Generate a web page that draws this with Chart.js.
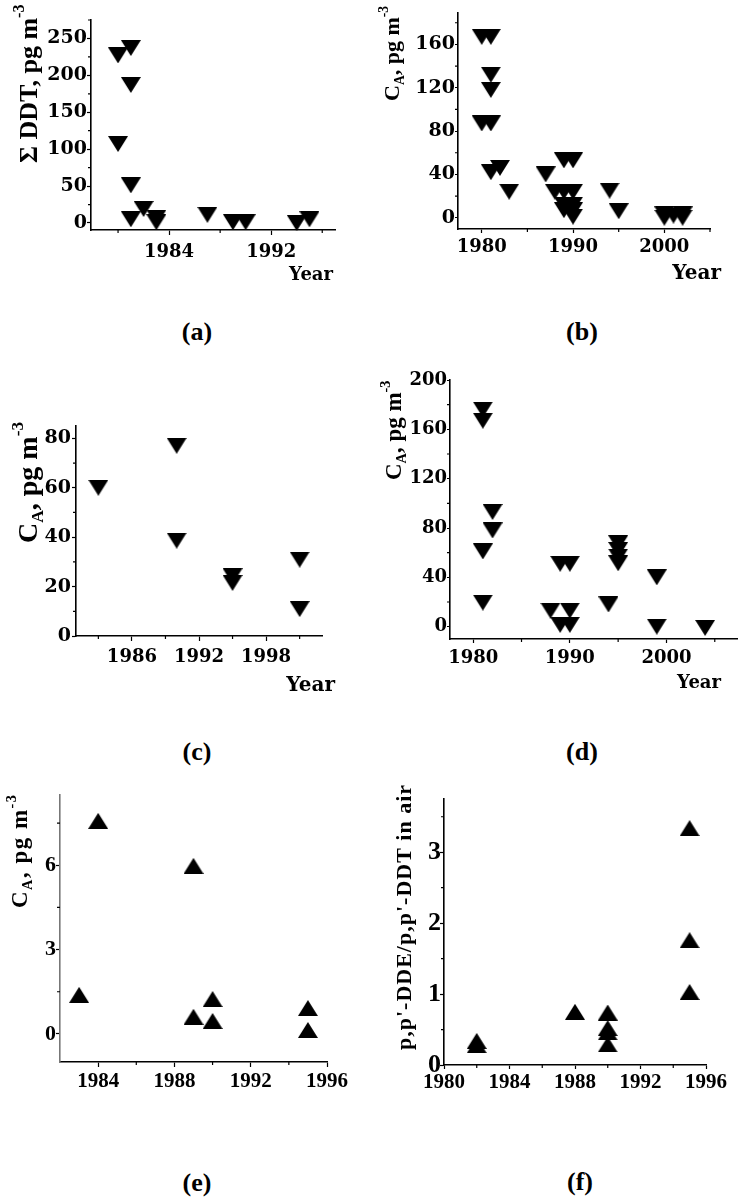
<!DOCTYPE html>
<html>
<head>
<meta charset="utf-8">
<script src="https://cdn.jsdelivr.net/npm/chart.js@4.4.1/dist/chart.umd.min.js"></script>
<style>
  body { margin: 0; background: #fff; width: 748px; height: 1199px; position: relative; overflow: hidden; }
  canvas { position: absolute; }
  .tag { position: absolute; font: bold 26px "Liberation Serif", serif; color: #000; transform: translate(-50%, -50%); }
</style>
</head>
<body>
<canvas id="pa"></canvas>
<canvas id="pb"></canvas>
<canvas id="pc"></canvas>
<canvas id="pd"></canvas>
<canvas id="pe"></canvas>
<canvas id="pf"></canvas>
<div class="tag" style="left:197px;top:332px">(a)</div>
<div class="tag" style="left:582px;top:332px">(b)</div>
<div class="tag" style="left:197px;top:752px">(c)</div>
<div class="tag" style="left:582px;top:752px">(d)</div>
<div class="tag" style="left:197px;top:1183px">(e)</div>
<div class="tag" style="left:580px;top:1182px">(f)</div>
<script>
// ─── DATA ─────────────────────────────────────────────────────────────────────

// (a) sum DDT, pg m-3
const yearsA = [1980, 1981, 1981, 1980, 1981, 1982, 1981, 1983, 1983, 1987, 1989, 1990, 1994, 1995];
const valsA  = [227, 237, 187, 107, 51, 19, 5, 7, 1, 11, 1, 1, 0, 5];
const xTicksA = [1984, 1992];
const xMinorA = [1980, 1988, 1996];
const yTicksA = [0, 50, 100, 150, 200, 250];
const yMinorA = [25, 75, 125, 175, 225, 275];

// (b) C_A, pg m-3
const yearsB = [1980, 1981, 1981, 1981, 1980, 1981, 1981, 1982, 1983, 1987, 1989, 1990,
                1988, 1989, 1990, 1989, 1990, 1989, 1990, 1990, 1994, 1995,
                2000, 2000, 2001, 2002, 2002];
const valsB  = [167, 167, 132, 118, 87, 87, 42, 46, 24, 40, 53, 53,
                24, 24, 24, 12, 12, 7, 7, 1, 25, 6,
                3, 0, 2, 3, 0];
const xTicksB = [1980, 1990, 2000];
const xMinorB = [1985, 1995, 2005];
const yTicksB = [0, 40, 80, 120, 160];
const yMinorB = [20, 60, 100, 140, 180];

// (c) C_A, pg m-3
const yearsC = [1983, 1990, 1990, 1995, 1995, 2001, 2001];
const valsC  = [60, 77, 38.6, 24.2, 21.5, 30.9, 10.9];
const xTicksC = [1986, 1992, 1998];
const xMinorC = [1983, 1989, 1995, 2001];
const yTicksC = [0, 20, 40, 60, 80];
const yMinorC = [10, 30, 50, 70];

// (d) C_A, pg m-3
const yearsD = [1981, 1981, 1982, 1982, 1981, 1981, 1989, 1990, 1988, 1990, 1989, 1990,
                1994, 1995, 1995, 1995, 1995, 1999, 1999, 2004];
const valsD  = [176, 167, 93, 78, 61, 19.5, 51, 51, 13, 13, 1.5, 1.5,
                18, 67.6, 62.2, 56.8, 51.4, 40, 0, -1];
const xTicksD = [1980, 1990, 2000];
const xMinorD = [1985, 1995, 2005];
const yTicksD = [0, 40, 80, 120, 160, 200];
const yMinorD = [20, 60, 100, 140, 180];

// (e) C_A, pg m-3
const yearsE = [1984, 1989, 1983, 1989, 1990, 1990, 1995, 1995];
const valsE  = [7.58, 5.98, 1.39, 0.61, 1.24, 0.46, 0.92, 0.14];
const xTicksE = [1984, 1988, 1992, 1996];
const xMinorE = [1986, 1990, 1994];
const yTicksE = [0, 3, 6];
const yMinorE = [1.5, 4.5, 7.5];

// (f) p,p'-DDE / p,p'-DDT ratio in air
const yearsF = [1982, 1982, 1988, 1990, 1990, 1990, 1990, 1995, 1995, 1995];
const valsF  = [0.34, 0.28, 0.75, 0.74, 0.52, 0.46, 0.29, 3.34, 1.76, 1.03];
const xTicksF = [1980, 1984, 1988, 1992, 1996];
const xMinorF = [1982, 1986, 1990, 1994];
const yTicksF = [0, 1, 2, 3];
const yMinorF = [0.5, 1.5, 2.5, 3.5];

// ─── MARKERS ──────────────────────────────────────────────────────────────────

function triangle(w, h, down) {
  const c = document.createElement('canvas');
  c.width = w; c.height = h;
  const g = c.getContext('2d');
  g.fillStyle = '#000';
  g.beginPath();
  if (down) { g.moveTo(0, 0); g.lineTo(w, 0); g.lineTo(w / 2, h); }
  else { g.moveTo(w / 2, 0); g.lineTo(w, h); g.lineTo(0, h); }
  g.closePath();
  g.fill();
  return c;
}
const downTri = triangle(20, 16, true);
const upTri = triangle(20, 16, false);

// ─── DECORATION PLUGIN: minor ticks, rotated y title with sub/sup, "Year" ────

const decor = {
  id: 'decor',
  afterDraw(chart, args, o) {
    const { ctx, chartArea: ca, scales: { x, y } } = chart;
    ctx.save();
    ctx.strokeStyle = '#000';
    ctx.lineWidth = 1.2;
    ctx.beginPath();
    o.xMinor.forEach(v => {
      const p = x.getPixelForValue(v);
      ctx.moveTo(p, ca.bottom); ctx.lineTo(p, ca.bottom + o.minorLen);
    });
    o.yMinor.forEach(v => {
      const p = y.getPixelForValue(v);
      ctx.moveTo(ca.left, p); ctx.lineTo(ca.left - o.minorLen, p);
    });
    ctx.stroke();

    // y title, reads bottom to top
    ctx.save();
    ctx.translate(ca.left + o.titleX, ca.top + o.titleY);
    ctx.rotate(-Math.PI / 2);
    ctx.fillStyle = '#000';
    ctx.textBaseline = 'alphabetic';
    ctx.letterSpacing = (o.spacing || 0) + 'px';
    let cx = 0;
    const s = o.titleSize;
    o.title.forEach(seg => {
      const size = seg.sub || seg.sup ? s * 0.62 : s;
      const dy = seg.sub ? s * 0.22 : seg.sup ? -s * 0.5 : 0;
      ctx.font = 'bold ' + size + 'px ' + TITLE_FONT;
      ctx.fillText(seg.t, cx, dy);
      cx += ctx.measureText(seg.t).width;
    });
    ctx.restore();

    // x title
    ctx.fillStyle = '#000';
    ctx.font = 'bold ' + o.yearSize + 'px ' + o.family;
    ctx.textAlign = 'right';
    ctx.textBaseline = 'alphabetic';
    ctx.fillText('Year', ca.right + o.yearX, ca.bottom + o.yearY);
    ctx.restore();
  }
};

// ─── PANEL BUILDER ────────────────────────────────────────────────────────────

function panel(id, p) {
  const [x0, y0, w, h] = p.frame;
  const [L, T, R, B] = p.box;
  const canvas = document.getElementById(id);
  canvas.width = w; canvas.height = h;
  canvas.style.left = x0 + 'px';
  canvas.style.top = y0 + 'px';

  const axis = (s) => ({
    type: 'linear',
    min: s.min, max: s.max,
    afterBuildTicks: sc => { sc.ticks = s.ticks.map(v => ({ value: v })); },
    ticks: {
      callback: v => String(v),
      font: { family: p.family, size: s.font, weight: 'bold' },
      color: '#000', padding: s.pad, autoSkip: false, maxRotation: 0
    },
    grid: { drawOnChartArea: false, tickLength: s.tl, tickColor: '#000', tickWidth: 1.2 },
    border: { color: s.border || '#000', width: 1.6 }
  });

  const xs = axis(p.x), ys = axis(p.y);
  xs.afterFit = sc => { sc.height = y0 + h - B; sc.paddingLeft = 0; sc.paddingRight = 0; };
  ys.afterFit = sc => { sc.width = L - x0; sc.paddingTop = 0; sc.paddingBottom = 0; };

  return new Chart(canvas, {
    type: 'scatter',
    data: {
      datasets: [{
        data: p.xs.map((v, i) => ({ x: v, y: p.ys[i] })),
        pointStyle: p.marker, pointRadius: 10, clip: false
      }]
    },
    options: {
      responsive: false, animation: false, events: [],
      layout: { padding: { left: 0, top: T - y0, right: x0 + w - R, bottom: 0 } },
      plugins: {
        legend: { display: false }, tooltip: { enabled: false },
        decor: Object.assign({ xMinor: p.x.minor, yMinor: p.y.minor, family: p.family }, p.deco)
      },
      scales: { x: xs, y: ys }
    },
    plugins: [decor]
  });
}

const SERIF_W = '"DejaVu Serif", serif';
const SERIF = '"Liberation Serif", "Times New Roman", serif';
const TITLE_FONT = SERIF;
const CA = [{ t: 'C' }, { t: 'A', sub: true }, { t: ', pg m' }, { t: '-3', sup: true }];

panel('pa', {
  frame: [0, 0, 374, 300], box: [91, 20, 335, 230], family: SERIF_W,
  xs: yearsA, ys: valsA, marker: downTri,
  x: { min: 1977.88, max: 1997, ticks: xTicksA, minor: xMinorA, font: 18, tl: 5, pad: 7 },
  y: { min: -9.5, max: 275, ticks: yTicksA, minor: yMinorA, font: 19, tl: 4, pad: 0 },
  deco: { minorLen: 3, title: [{ t: 'Σ DDT, pg m' }, { t: '-3', sup: true }], titleSize: 26,
          titleX: -54, titleY: 143, yearSize: 18, yearX: -2, yearY: 50 }
});

panel('pb', {
  frame: [374, 0, 374, 300], box: [458, 13, 710, 229], family: SERIF_W,
  xs: yearsB, ys: valsB, marker: downTri,
  x: { min: 1977.4, max: 2005, ticks: xTicksB, minor: xMinorB, font: 18, tl: 4, pad: 4 },
  y: { min: -10.4, max: 189, ticks: yTicksB, minor: yMinorB, font: 19, tl: 3, pad: 0 },
  deco: { minorLen: 3, title: CA, titleSize: 22,
          titleX: -59, titleY: 88, yearSize: 20, yearX: 11, yearY: 50 }
});

panel('pc', {
  frame: [0, 360, 374, 340], box: [76, 426, 322, 636], family: SERIF_W,
  xs: yearsC, ys: valsC, marker: downTri,
  x: { min: 1981, max: 2003, ticks: xTicksC, minor: xMinorC, font: 18, tl: 5, pad: 6 },
  y: { min: 0, max: 85, ticks: yTicksC, minor: yMinorC, font: 19, tl: 4, pad: 1 },
  deco: { minorLen: 3, title: CA, titleSize: 28,
          titleX: -39, titleY: 117, yearSize: 20, yearX: 13, yearY: 55 }
});

panel('pd', {
  frame: [374, 360, 374, 340], box: [450, 380, 748, 639], family: SERIF_W,
  xs: yearsD, ys: valsD, marker: downTri,
  x: { min: 1977.6, max: 2007.3, ticks: xTicksD, minor: xMinorD, font: 18, tl: 4, pad: 5 },
  y: { min: -10, max: 200, ticks: yTicksD, minor: yMinorD, font: 18, tl: 3, pad: 0 },
  deco: { minorLen: 3, title: CA, titleSize: 23,
          titleX: -49, titleY: 100, yearSize: 18, yearX: -16, yearY: 49 }
});

panel('pe', {
  frame: [0, 780, 374, 320], box: [60, 795, 327, 1062], family: SERIF,
  xs: yearsE, ys: valsE, marker: upTri,
  x: { min: 1982, max: 1996, ticks: xTicksE, minor: xMinorE, font: 21, tl: 5, pad: 2 },
  y: { min: -1, max: 8.5, ticks: yTicksE, minor: yMinorE, font: 22, tl: 4, pad: 0, border: '#777' },
  deco: { minorLen: 3, title: CA, titleSize: 23, spacing: 1.5,
          titleX: -33, titleY: 113, yearSize: 20, yearX: -13, yearY: 53 }
});

panel('pf', {
  frame: [374, 780, 374, 320], box: [444, 799, 706, 1065], family: SERIF,
  xs: yearsF, ys: valsF, marker: upTri,
  x: { min: 1980, max: 1996, ticks: xTicksF, minor: xMinorF, font: 21, tl: 4, pad: 1 },
  y: { min: 0, max: 3.75, ticks: yTicksF, minor: yMinorF, font: 26, tl: 4, pad: -1 },
  deco: { minorLen: 3, title: [{ t: "p,p'-DDE/p,p'-DDT in air" }], titleSize: 22, spacing: 1,
          titleX: -33, titleY: 251, yearSize: 20, yearX: -14, yearY: 51 }
});
</script>
</body>
</html>
